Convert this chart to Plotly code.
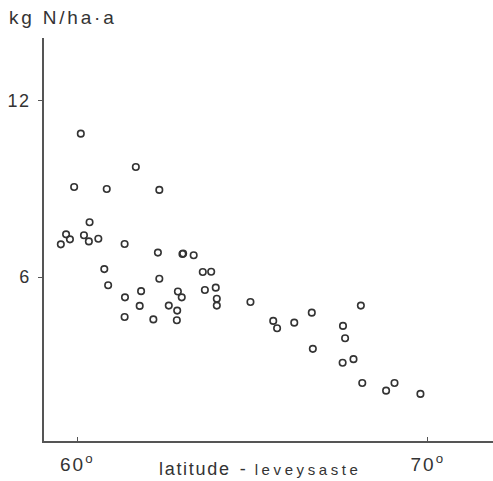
import plotly.graph_objects as go

# latitude (degrees) and N deposition (kg N/ha·a)
latitude = [60.10, 61.67, 59.91, 60.84, 62.34, 60.35, 59.68, 59.53, 59.79, 60.19,
            60.33, 60.60, 61.35, 62.30, 60.77, 60.88, 61.82, 61.36, 61.78, 61.35,
            62.17, 63.00, 63.02, 63.32, 63.58, 63.82, 62.34, 62.87, 62.98, 63.64,
            63.95, 63.98, 63.98, 64.94, 62.61, 62.85, 62.84, 65.59, 65.70, 66.19,
            66.69, 66.72, 67.58, 67.64, 68.09, 67.57, 67.88, 68.13, 68.81, 69.05,
            69.79]
deposition = [10.87, 9.74, 9.06, 8.99, 8.96, 7.86, 7.45, 7.11, 7.28, 7.42,
              7.21, 7.30, 7.12, 6.83, 6.27, 5.72, 5.52, 5.31, 5.02, 4.64,
              4.56, 6.78, 6.80, 6.74, 6.17, 6.18, 5.94, 5.51, 5.31, 5.56,
              5.64, 5.26, 5.03, 5.15, 5.03, 4.86, 4.53, 4.51, 4.26, 4.45,
              4.79, 3.56, 4.34, 3.92, 5.03, 3.09, 3.21, 2.40, 2.14, 2.40,
              2.03]

x_tick_vals = [60, 70]
x_tick_text = ["60<sup>o</sup>", "70<sup>o</sup>"]
y_tick_vals = [6, 12]
y_tick_text = ["6", "12"]

ink = "#333333"
axis_col = "#555555"
font_family = "Liberation Sans, Arial, sans-serif"

fig = go.Figure()
fig.add_trace(go.Scatter(
    x=latitude, y=deposition, mode="markers",
    marker=dict(symbol="circle-open", size=6.5, color=ink, line=dict(width=1.6)),
    hoverinfo="skip", showlegend=False,
))

spaced = lambda t, ls: f"<span style='letter-spacing:{ls}px'>{t}</span>"

fig.update_layout(
    width=493, height=481,
    margin=dict(l=44, r=0, t=38, b=40),
    paper_bgcolor="white", plot_bgcolor="white",
    font=dict(family=font_family, color=ink, size=17),
    xaxis=dict(
        range=[59.05, 71.86], showgrid=False, zeroline=False,
        showline=True, linecolor=axis_col, linewidth=1.5,
        tickmode="array", tickvals=x_tick_vals,
        ticktext=[spaced(t, 2) for t in x_tick_text],
        ticks="inside", ticklen=4, tickwidth=1.2, tickcolor=axis_col,
        tickfont=dict(size=19, color=ink), ticklabelstandoff=5,
    ),
    yaxis=dict(
        range=[0.43, 14.12], showgrid=False, zeroline=False,
        showline=True, linecolor=axis_col, linewidth=1.5,
        tickmode="array", tickvals=y_tick_vals,
        ticktext=[spaced(t, 1.5) for t in y_tick_text],
        ticks="outside", ticklen=4, tickwidth=1.2, tickcolor=axis_col,
        tickfont=dict(size=18, color=ink), ticklabelstandoff=4,
    ),
    annotations=[
        dict(text=spaced("kg N/ha·a", 2.8), xref="paper", yref="paper",
             x=-0.082, y=1.052, xanchor="left", yanchor="middle",
             showarrow=False, font=dict(size=19, color=ink)),
        dict(text=spaced("latitude", 1.7) + "\u2002-\u2002"
             + "<span style='font-size:15px;letter-spacing:3.6px'>leveysaste</span>",
             xref="paper", yref="paper", x=0.482, y=-0.07,
             xanchor="center", yanchor="middle",
             showarrow=False, font=dict(size=18, color=ink)),
    ],
)

fig.write_html("out.html")
